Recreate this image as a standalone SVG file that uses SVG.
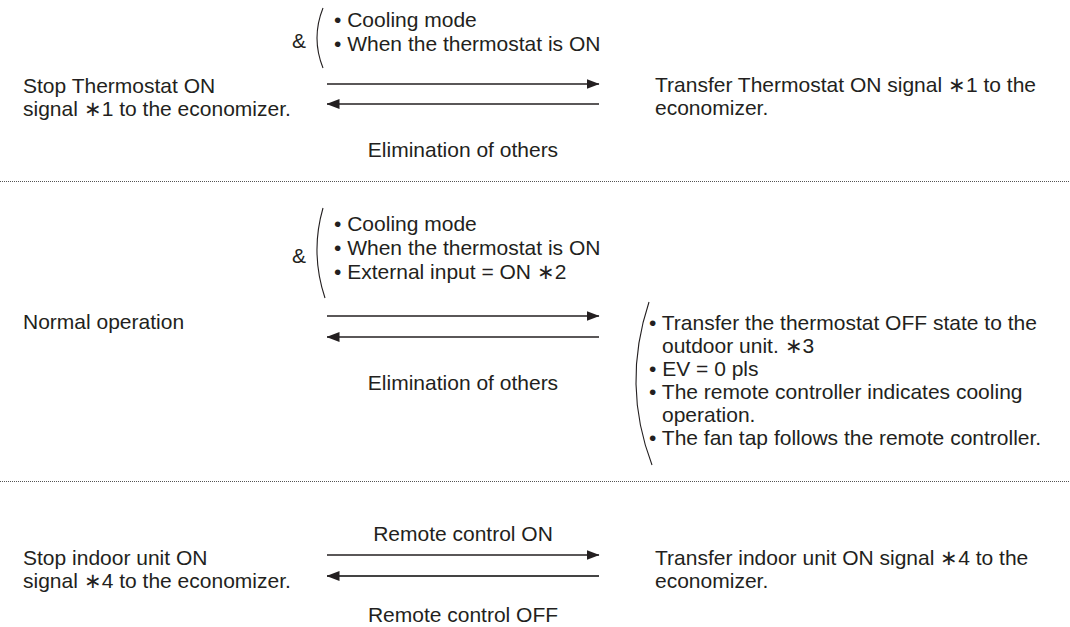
<svg xmlns="http://www.w3.org/2000/svg" width="1070" height="627" viewBox="0 0 1070 627">
<style>
text{font-family:"Liberation Sans",Arial,Helvetica,sans-serif;font-size:21px;fill:#231f20}
.mid{text-anchor:middle}
.br{fill:none;stroke:#231f20;stroke-width:1.1}
.arr{stroke:#231f20;stroke-width:1.4;fill:none}
.arr2{stroke:#444;stroke-width:2;fill:none}
.sep{stroke:#555;stroke-width:1;stroke-dasharray:1 1;fill:none}
</style>
<defs>
<marker id="ah" viewBox="0 0 13 11" refX="12.5" refY="5.5" markerWidth="13" markerHeight="11" markerUnits="userSpaceOnUse" orient="auto">
<path d="M0,0.5 L13,5.5 L0,10.5 Z" fill="#231f20"/>
</marker>
</defs>
<rect width="1070" height="627" fill="#fff"/>

<g id="separators">
<line class="sep" x1="0" y1="181.5" x2="1070" y2="181.5"/>
<line class="sep" x1="0" y1="481.5" x2="1070" y2="481.5"/>
</g>

<g id="connectors">
<line class="arr" x1="327" y1="84" x2="599" y2="84" marker-end="url(#ah)"/>
<line class="arr" x1="599" y1="104" x2="327" y2="104" marker-end="url(#ah)"/>
<line class="arr" x1="327" y1="316" x2="599" y2="316" marker-end="url(#ah)"/>
<line class="arr" x1="599" y1="337" x2="327" y2="337" marker-end="url(#ah)"/>
<line class="arr" x1="327" y1="555" x2="599" y2="555" marker-end="url(#ah)"/>
<line class="arr2" x1="599" y1="576" x2="327" y2="576" marker-end="url(#ah)"/>
</g>

<g id="row1-left">
<text x="23" y="93">Stop Thermostat ON</text>
<text x="23" y="116">signal ∗1 to the economizer.</text>
</g>
<g id="row1-condition">
<text x="292" y="48">&amp;</text>
<path class="br" d="M323,8 Q311,38 323,68"/>
<text x="334" y="27">• Cooling mode</text>
<text x="334" y="51">• When the thermostat is ON</text>
</g>
<g id="row1-right">
<text x="655" y="92">Transfer Thermostat ON signal ∗1 to the</text>
<text x="655" y="115">economizer.</text>
</g>
<g id="row1-return">
<text class="mid" x="463" y="157">Elimination of others</text>
</g>

<g id="row2-left">
<text x="23" y="329">Normal operation</text>
</g>
<g id="row2-condition">
<text x="292" y="263">&amp;</text>
<path class="br" d="M323,208 Q310,253 325,298"/>
<text x="334" y="231">• Cooling mode</text>
<text x="334" y="255">• When the thermostat is ON</text>
<text x="334" y="279">• External input = ON ∗2</text>
</g>
<g id="row2-right">
<path class="br" d="M649,302 Q621.5,385 652,465"/>
<text x="649" y="330">• Transfer the thermostat OFF state to the</text>
<text x="662" y="353">outdoor unit. ∗3</text>
<text x="649" y="376">• EV = 0 pls</text>
<text x="649" y="399">• The remote controller indicates cooling</text>
<text x="662" y="422">operation.</text>
<text x="649" y="445">• The fan tap follows the remote controller.</text>
</g>
<g id="row2-return">
<text class="mid" x="463" y="390">Elimination of others</text>
</g>

<g id="row3-left">
<text x="23" y="565">Stop indoor unit ON</text>
<text x="23" y="588">signal ∗4 to the economizer.</text>
</g>
<g id="row3-forward">
<text class="mid" x="463" y="541">Remote control ON</text>
</g>
<g id="row3-right">
<text x="655" y="565">Transfer indoor unit ON signal ∗4 to the</text>
<text x="655" y="588">economizer.</text>
</g>
<g id="row3-return">
<text class="mid" x="463" y="622">Remote control OFF</text>
</g>
</svg>
